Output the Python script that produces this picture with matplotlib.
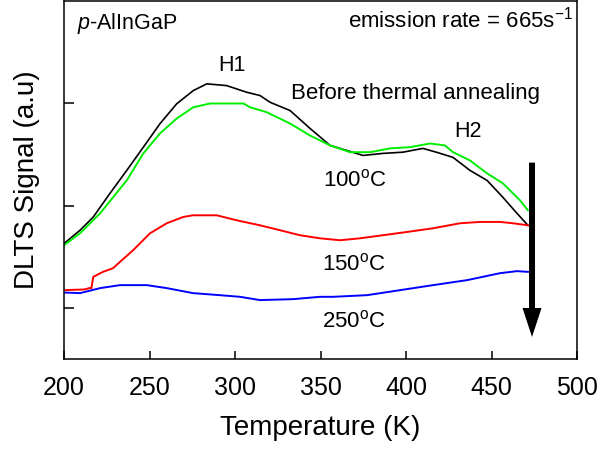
import matplotlib
matplotlib.use("Agg")
import matplotlib.pyplot as plt
from matplotlib.patches import FancyArrowPatch

plt.rcParams['font.family'] = ['Liberation Sans', 'DejaVu Sans']
plt.rcParams['mathtext.fontset'] = 'custom'
plt.rcParams['mathtext.rm'] = 'Liberation Sans'
plt.rcParams['mathtext.it'] = 'Liberation Sans:italic'

# ---- data ----
T_before = [200, 209.4, 217.1, 226.9, 236.7, 246.4, 256.1, 265.9, 275.6, 283.5, 295.1, 306.8,
            314.6, 320.5, 332.2, 343.9, 355.6, 365.3, 374.9, 386.5, 398.2, 409.9, 418.1, 427.5,
            437.4, 447.4, 456.7, 464.9, 471.3]
S_before = [1.629, 1.759, 1.888, 2.120, 2.344, 2.571, 2.800, 2.995, 3.124, 3.190, 3.173, 3.108,
            3.076, 3.010, 2.929, 2.754, 2.588, 2.539, 2.490, 2.510, 2.522, 2.559, 2.520, 2.471,
            2.344, 2.246, 2.080, 1.924, 1.807]

T_100 = [200, 209.4, 221.1, 236.7, 246.4, 256.1, 265.9, 275.6, 285.4, 295.1, 304.9, 308.8,
         318.5, 332.2, 343.9, 355.6, 367.3, 378.9, 390.6, 402.3, 414.0, 422.8, 427.5, 437.4,
         447.4, 456.7, 466.7, 471.3]
S_100 = [1.612, 1.729, 1.924, 2.246, 2.510, 2.705, 2.851, 2.961, 2.998, 2.998, 2.998, 2.961,
         2.913, 2.802, 2.685, 2.588, 2.522, 2.522, 2.559, 2.571, 2.607, 2.588, 2.522, 2.441,
         2.315, 2.217, 2.051, 1.954]

T_150 = [200, 212.0, 215.2, 216.0, 217.1, 222.8, 228.7, 232.7, 240.4, 250.3, 260.1, 269.6,
         275.4, 289.3, 301.0, 314.6, 326.3, 338.0, 349.7, 361.4, 373.1, 386.5, 400.6, 415.8,
         431.6, 443.3, 455.0, 462.6, 471.3]
S_150 = [1.173, 1.180, 1.195, 1.190, 1.303, 1.352, 1.388, 1.449, 1.563, 1.729, 1.827, 1.888,
         1.905, 1.905, 1.856, 1.807, 1.759, 1.710, 1.680, 1.661, 1.680, 1.710, 1.742, 1.778,
         1.827, 1.840, 1.840, 1.827, 1.807]

T_250 = [200, 209.4, 221.1, 232.7, 248.4, 260.1, 275.4, 291.2, 302.9, 314.6, 333.9, 349.7,
         357.3, 377.2, 396.5, 415.8, 435.7, 455.0, 464.9, 471.3]
S_250 = [1.150, 1.144, 1.193, 1.222, 1.222, 1.193, 1.144, 1.124, 1.108, 1.076, 1.085, 1.108,
         1.108, 1.124, 1.173, 1.222, 1.271, 1.339, 1.359, 1.352]

x_ticks = [200, 250, 300, 350, 400, 450, 500]
y_ticks = [1, 2, 3]

# ---- figure ----
fig = plt.figure(figsize=(6.0, 4.49), dpi=100)
ax = fig.add_axes([64 / 600, 90 / 449, 513 / 600, 358 / 449])

ax.plot(T_before, S_before, color='black', lw=1.2)
ax.plot(T_100, S_100, color='#00ee00', lw=1.4)
ax.plot(T_150, S_150, color='#ff0000', lw=1.4)
ax.plot(T_250, S_250, color='#0000ff', lw=1.4)

ax.set_xlim(200, 500)
ax.set_ylim(0.5, 4.0)
ax.set_xticks(x_ticks)
ax.set_yticks(y_ticks)
ax.set_yticklabels([])
ax.tick_params(axis='x', direction='in', length=6, width=1.1, labelsize=18, pad=12)
ax.tick_params(axis='y', direction='in', length=7.5, width=1.1)
for sp in ax.spines.values():
    sp.set_linewidth(1.1)

ax.set_xlabel('Temperature (K)', fontsize=20, labelpad=11)
ax.set_ylabel('DLTS Signal (a.u)', fontsize=20, labelpad=14)

ax.text(207.6, 3.73, r'$\mathit{p}$-AlInGaP', fontsize=15.5, ha='left', va='baseline')
ax.text(497.7, 3.74, r'emission rate = 665s$^{\mathrm{-1}}$', fontsize=16, ha='right', va='baseline')
ax.text(298.2, 3.32, 'H1', fontsize=15.5, ha='center', va='baseline')
ax.text(332.7, 3.046, 'Before thermal annealing', fontsize=16, ha='left', va='baseline')
ax.text(436.3, 2.666, 'H2', fontsize=15.5, ha='center', va='baseline')
ax.text(351.5, 2.188, r'100$^{\mathrm{o}}$C', fontsize=16, ha='left', va='baseline')
ax.text(350.7, 1.368, r'150$^{\mathrm{o}}$C', fontsize=16, ha='left', va='baseline')
ax.text(350.9, 0.805, r'250$^{\mathrm{o}}$C', fontsize=16, ha='left', va='baseline')

arrow = FancyArrowPatch(posA=(473.7, 2.42), posB=(473.7, 0.715),
                        arrowstyle='simple,head_width=1.37,tail_width=0.43,head_length=2.09',
                        mutation_scale=10, color='black', lw=0, shrinkA=0, shrinkB=0,
                        capstyle='round')
ax.add_patch(arrow)

fig.savefig('out.png', dpi=100)
